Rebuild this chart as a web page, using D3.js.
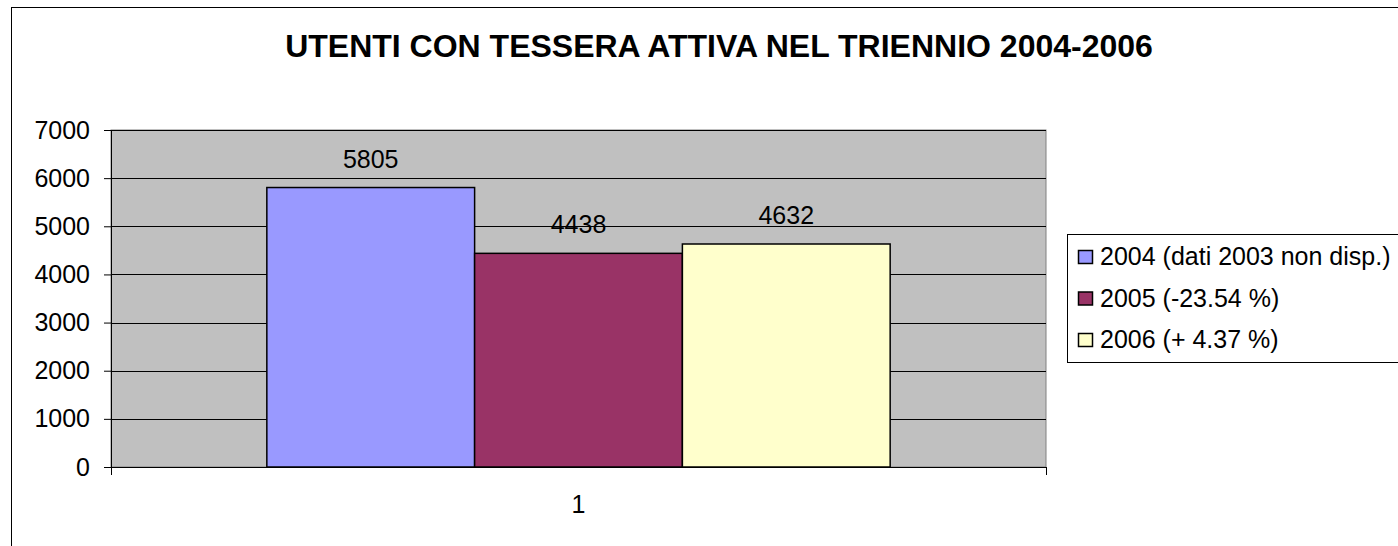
<!DOCTYPE html>
<html>
<head>
<meta charset="utf-8">
<script src="https://cdn.jsdelivr.net/npm/d3@7"></script>
<style>
  body { margin:0; background:#fff; }
  svg { display:block; font-family: "Liberation Sans", Arial, sans-serif; }
</style>
</head>
<body>
<div id="chart"></div>
<script>
// dati del grafico
var categories = ["1"];
var seriesNames = ["2004 (dati 2003 non disp.)", "2005 (-23.54 %)", "2006 (+ 4.37 %)"];
var seriesValues = [5805, 4438, 4632];
var seriesColors = ["#9999FF", "#993366", "#FFFFCC"];
var yTicks = [0, 1000, 2000, 3000, 4000, 5000, 6000, 7000];
var titleText = "UTENTI CON TESSERA ATTIVA NEL TRIENNIO 2004-2006";

var W = 1398, H = 546;
var plot = {left:111, right:1046, top:130, bottom:467};

var svg = d3.select("#chart").append("svg")
    .attr("width", W).attr("height", H);

// cornice esterna
svg.append("rect")
    .attr("x", 11.5).attr("y", 7.5)
    .attr("width", W + 20).attr("height", H + 20)
    .attr("fill", "#fff").attr("stroke", "#000").attr("stroke-width", 1);

svg.append("text")
    .attr("x", 719).attr("y", 57)
    .attr("text-anchor", "middle")
    .attr("font-size", 32).attr("font-weight", "bold")
    .text(titleText);

var y = d3.scaleLinear().domain([0, 7000]).range([plot.bottom, plot.top]);
var x0 = d3.scaleBand().domain(categories).range([plot.left, plot.right]).paddingInner(0).paddingOuter(0);
// gap width 150% -> barre occupano 3/4.5 della banda
var x1 = d3.scaleBand().domain(d3.range(seriesValues.length))
    .range([x0.bandwidth() * 0.75 / 4.5, x0.bandwidth() - x0.bandwidth() * 0.75 / 4.5]);

// sfondo area grafico
svg.append("rect")
    .attr("x", plot.left).attr("y", plot.top)
    .attr("width", plot.right - plot.left).attr("height", plot.bottom - plot.top)
    .attr("fill", "#C0C0C0").attr("stroke", "#808080").attr("stroke-width", 1);

// griglia
svg.append("g").selectAll("line")
    .data(yTicks.filter(function(d){ return d > 0; }))
    .enter().append("line")
    .attr("x1", plot.left).attr("x2", plot.right)
    .attr("y1", function(d){ return Math.round(y(d)) + 0.5; })
    .attr("y2", function(d){ return Math.round(y(d)) + 0.5; })
    .attr("stroke", "#000").attr("stroke-width", 1);

// barre
var g = svg.append("g").attr("transform", "translate(" + x0(categories[0]) + ",0)");
g.selectAll("rect").data(seriesValues).enter().append("rect")
    .attr("x", function(d, i){ return x1(i); })
    .attr("y", function(d){ return y(d); })
    .attr("width", x1.bandwidth())
    .attr("height", function(d){ return y(0) - y(d); })
    .attr("fill", function(d, i){ return seriesColors[i]; })
    .attr("stroke", "#000").attr("stroke-width", 1.5);

g.selectAll("text").data(seriesValues).enter().append("text")
    .attr("x", function(d, i){ return x1(i) + x1.bandwidth() / 2; })
    .attr("y", function(d){ return y(d) - 20; })
    .attr("text-anchor", "middle")
    .attr("font-size", 25)
    .text(function(d){ return d; });

// asse y
var yAxis = svg.append("g")
    .attr("transform", "translate(" + plot.left + ",0)")
    .call(d3.axisLeft(y).tickValues(yTicks).tickSize(7).tickPadding(14).tickFormat(d3.format("d")));
yAxis.select(".domain").attr("stroke", "#000");
yAxis.selectAll("text").attr("font-size", 25).attr("fill", "#000")
    .attr("font-family", "Liberation Sans, Arial, sans-serif");

// asse x
var xAxis = svg.append("g")
    .attr("transform", "translate(0," + plot.bottom + ")");
xAxis.append("line")
    .attr("x1", plot.left).attr("x2", plot.right)
    .attr("y1", 0.5).attr("y2", 0.5).attr("stroke", "#000");
xAxis.selectAll("line.tk").data([plot.left, plot.right]).enter().append("line")
    .attr("class", "tk")
    .attr("x1", function(d){ return d + 0.5; }).attr("x2", function(d){ return d + 0.5; })
    .attr("y1", 0).attr("y2", 8).attr("stroke", "#000");
xAxis.selectAll("text").data(categories).enter().append("text")
    .attr("x", function(d){ return x0(d) + x0.bandwidth() / 2; })
    .attr("y", 46)
    .attr("text-anchor", "middle")
    .attr("font-size", 25)
    .text(function(d){ return d; });

// legenda
var leg = svg.append("g").attr("transform", "translate(1067,234)");
leg.append("rect")
    .attr("x", 0.5).attr("y", 0.5).attr("width", 400).attr("height", 128)
    .attr("fill", "#fff").attr("stroke", "#000");
var items = leg.selectAll("g.item").data(seriesNames).enter().append("g")
    .attr("class", "item")
    .attr("transform", function(d, i){ return "translate(0," + (31 + i * 41.5) + ")"; });
items.append("rect")
    .attr("x", 11.5).attr("y", -14.5).attr("width", 14).attr("height", 13)
    .attr("fill", function(d, i){ return seriesColors[i]; })
    .attr("stroke", "#000").attr("stroke-width", 1.5);
items.append("text")
    .attr("x", 33).attr("y", 0)
    .attr("font-size", 25)
    .text(function(d){ return d; });
</script>
</body>
</html>
